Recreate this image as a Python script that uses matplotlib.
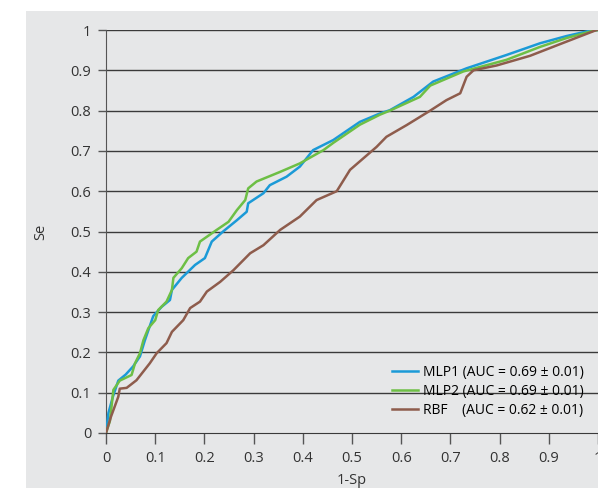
import matplotlib.pyplot as plt
from matplotlib.patches import Rectangle

plt.rcParams['font.family'] = ['Open Sans', 'DejaVu Sans']

# ROC curves (x = 1-Sp, y = Se)
mlp1_x = [0, 0.005, 0.014, 0.025, 0.04, 0.055, 0.069, 0.079, 0.096, 0.113, 0.13, 0.134,
          0.154, 0.181, 0.201, 0.215, 0.238, 0.266, 0.286, 0.289, 0.32, 0.333, 0.367,
          0.394, 0.421, 0.462, 0.516, 0.557, 0.577, 0.625, 0.665, 0.733, 0.814, 0.882,
          0.936, 0.99, 1.0]
mlp1_y = [0, 0.05, 0.09, 0.13, 0.145, 0.165, 0.19, 0.23, 0.29, 0.313, 0.33, 0.355,
          0.385, 0.417, 0.434, 0.475, 0.50, 0.528, 0.549, 0.57, 0.595, 0.615, 0.636,
          0.661, 0.702, 0.727, 0.772, 0.793, 0.801, 0.834, 0.872, 0.905, 0.938, 0.967,
          0.985, 1.0, 1.0]

mlp2_x = [0, 0.008, 0.015, 0.028, 0.052, 0.059, 0.069, 0.076, 0.086, 0.10, 0.106, 0.123,
          0.134, 0.137, 0.154, 0.167, 0.184, 0.191, 0.225, 0.249, 0.266, 0.283, 0.289,
          0.306, 0.354, 0.394, 0.442, 0.462, 0.516, 0.557, 0.577, 0.638, 0.659, 0.726,
          0.814, 0.882, 0.936, 0.99, 1.0]
mlp2_y = [0, 0.03, 0.107, 0.13, 0.144, 0.173, 0.198, 0.23, 0.26, 0.28, 0.305, 0.326,
          0.355, 0.385, 0.409, 0.434, 0.45, 0.475, 0.504, 0.524, 0.553, 0.578, 0.607,
          0.624, 0.648, 0.669, 0.702, 0.72, 0.765, 0.79, 0.80, 0.834, 0.862, 0.897,
          0.926, 0.958, 0.98, 0.998, 1.0]

rbf_x = [0, 0.01, 0.025, 0.028, 0.042, 0.062, 0.089, 0.103, 0.123, 0.134, 0.157, 0.171,
         0.191, 0.205, 0.232, 0.259, 0.293, 0.32, 0.354, 0.394, 0.428, 0.469, 0.496,
         0.55, 0.57, 0.611, 0.659, 0.692, 0.72, 0.733, 0.747, 0.794, 0.862, 0.923,
         0.997]
rbf_y = [0, 0.04, 0.09, 0.11, 0.112, 0.131, 0.173, 0.198, 0.223, 0.251, 0.28, 0.31,
         0.326, 0.351, 0.375, 0.404, 0.446, 0.466, 0.504, 0.537, 0.578, 0.60, 0.653,
         0.71, 0.735, 0.764, 0.80, 0.826, 0.843, 0.884, 0.90, 0.912, 0.936, 0.965,
         1.0]

labels = ['MLP1 (AUC = 0.69 ± 0.01)',
          'MLP2 (AUC = 0.69 ± 0.01)',
          'RBF    (AUC = 0.62 ± 0.01)']
colors = ['#1b9ad7', '#6dbf45', '#8e5c4c']
ticks = [0, 0.1, 0.2, 0.3, 0.4, 0.5, 0.6, 0.7, 0.8, 0.9, 1]
tick_labels = ['0', '0.1', '0.2', '0.3', '0.4', '0.5', '0.6', '0.7', '0.8', '0.9', '1']

fig = plt.figure(figsize=(5.98, 4.88), dpi=100)
fig.patches.append(Rectangle((26 / 598, 0), 1, 477 / 488, transform=fig.transFigure,
                             facecolor='#e6e7e8', edgecolor='none', zorder=-5))

ax = fig.add_axes([106 / 598, 55 / 488, 492 / 598, 403 / 488])
ax.set_facecolor('none')

for yv in ticks[1:]:
    ax.axhline(yv, color='#3a3a3a', lw=1.0, zorder=1)

ax.plot(mlp1_x, mlp1_y, color=colors[0], lw=1.8, label=labels[0], zorder=3)
ax.plot(mlp2_x, mlp2_y, color=colors[1], lw=1.8, label=labels[1], zorder=3)
ax.plot(rbf_x, rbf_y, color=colors[2], lw=1.8, label=labels[2], zorder=4)

ax.set_xlim(0, 1)
ax.set_ylim(0, 1)
ax.set_xticks(ticks)
ax.set_xticklabels(tick_labels)
ax.set_yticks(ticks)
ax.set_yticklabels(tick_labels)

for s in ['top', 'right']:
    ax.spines[s].set_visible(False)
ax.spines['left'].set_color('#555555')
ax.spines['bottom'].set_color('#3a3a3a')
ax.tick_params(axis='both', width=1, color='#555555', labelsize=10.5,
               labelcolor='#333333')
ax.tick_params(axis='y', length=5.5, pad=5)
ax.tick_params(axis='x', length=8, pad=5)

ax.set_xlabel('1-Sp', fontsize=10.5, color='#333333', labelpad=5)
ax.set_ylabel('Se', fontsize=10.5, color='#333333', labelpad=16)

ax.legend(loc='lower right', bbox_to_anchor=(0.985, 0.02), frameon=False,
          fontsize=10, handlelength=1.9, handletextpad=0.35, labelspacing=0.3,
          borderpad=0)

fig.savefig('out.png', dpi=100)
